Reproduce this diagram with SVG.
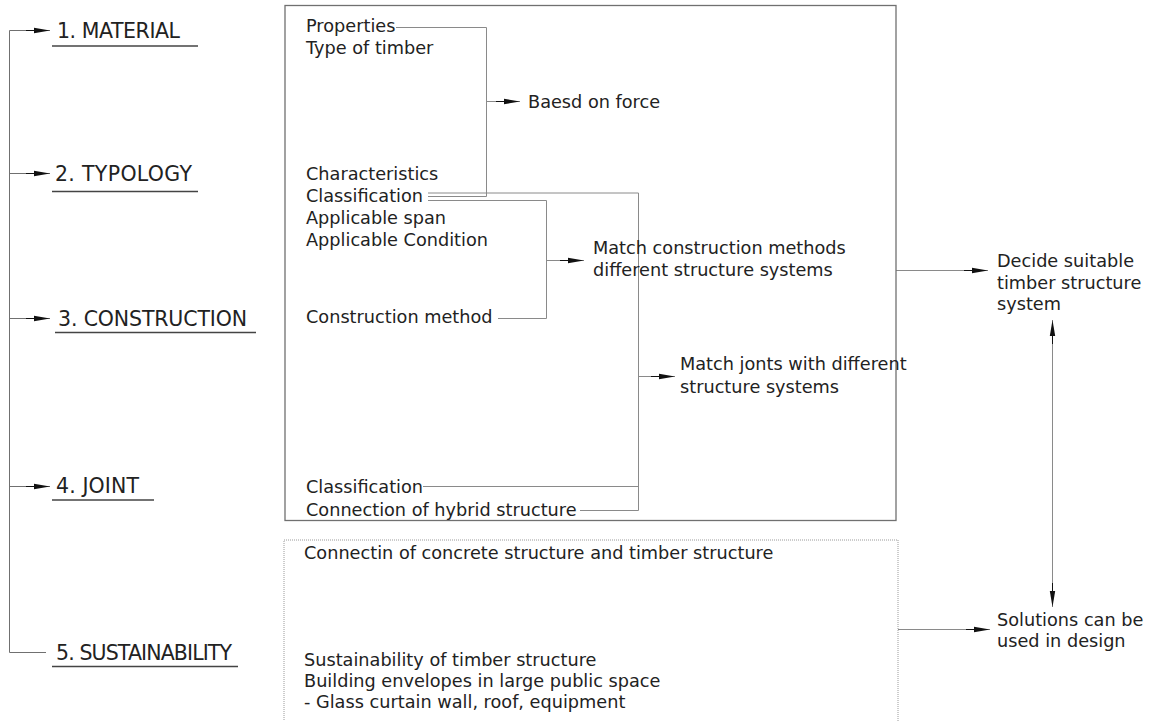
<svg xmlns="http://www.w3.org/2000/svg" width="1156" height="721" viewBox="0 0 1156 721">
<style>
text{font-family:"DejaVu Sans","Liberation Sans",sans-serif;fill:#222}
.h{font-size:20.5px}
.t{font-size:17.7px}
.ul{stroke:#444;stroke-width:1.5;fill:none}
.c{stroke:#8a8a8a;stroke-width:1;fill:none}
.l{stroke:#707070;stroke-width:1;fill:none}
.box{fill:none;stroke:#707070;stroke-width:1.3}
.dot{fill:none;stroke:#9a9a9a;stroke-width:1;stroke-dasharray:1 1}
</style>
<defs>
<marker id="arr" viewBox="0 0 24 7" refX="24" refY="3.5" markerWidth="24" markerHeight="7" markerUnits="userSpaceOnUse" orient="auto-start-reverse">
<line x1="0" y1="3.5" x2="10" y2="3.5" stroke="#111" stroke-width="1"/>
<path d="M8,0.8 L24,3.5 L8,6.2 z" fill="#111"/>
</marker>
</defs>
<rect width="1156" height="721" fill="#fff"/>

<g id="connectors">
<path class="l" d="M46,652.5 H9.5 V30.5"/>
<path d="M9.5,30.5 H50" class="l" marker-end="url(#arr)"/>
<path d="M9.5,173.5 H50" class="l" marker-end="url(#arr)"/>
<path d="M9.5,318.5 H50" class="l" marker-end="url(#arr)"/>
<path d="M9.5,486.5 H50" class="l" marker-end="url(#arr)"/>
<path class="c" d="M396,27.5 H486.5 V196.5 H428"/>
<path class="c" d="M486.5,101.5 H520" marker-end="url(#arr)"/>
<path class="c" d="M428,200.5 H546.5 V318.5 H498"/>
<path class="c" d="M546.5,260.5 H584" marker-end="url(#arr)"/>
<path class="c" d="M428,193 H638.5 V510.5 H580"/>
<path class="c" d="M423,486.5 H638.5"/>
<path class="c" d="M638.5,376.5 H675" marker-end="url(#arr)"/>
<path class="c" d="M896,270.5 H988" marker-end="url(#arr)"/>
<path class="c" d="M898,629.5 H990" marker-end="url(#arr)"/>
<path class="c" d="M1052.5,320 V607" marker-start="url(#arr)" marker-end="url(#arr)"/>
</g>

<g id="material">
<text class="h" x="57" y="38" textLength="123">1. MATERIAL</text>
<line class="ul" x1="52" y1="46" x2="198" y2="46"/>
</g>
<g id="typology">
<text class="h" x="55" y="181" textLength="137">2. TYPOLOGY</text>
<line class="ul" x1="52" y1="191.5" x2="198" y2="191.5"/>
</g>
<g id="construction">
<text class="h" x="58" y="325.5" textLength="189">3. CONSTRUCTION</text>
<line class="ul" x1="55" y1="332.5" x2="256" y2="332.5"/>
</g>
<g id="joint">
<text class="h" x="56" y="493" textLength="83">4. JOINT</text>
<line class="ul" x1="52" y1="500" x2="154" y2="500"/>
</g>
<g id="sustainability">
<text class="h" x="56" y="660" textLength="176">5. SUSTAINABILITY</text>
<line class="ul" x1="52" y1="666.5" x2="238" y2="666.5"/>
</g>

<g id="main-box">
<rect class="box" x="285" y="5.5" width="611" height="515"/>
<text class="t" x="306" y="32">Properties</text>
<text class="t" x="306" y="54">Type of timber</text>
<text class="t" x="306" y="180">Characteristics</text>
<text class="t" x="306" y="202">Classification</text>
<text class="t" x="306" y="224">Applicable span</text>
<text class="t" x="306" y="246">Applicable Condition</text>
<text class="t" x="306" y="323">Construction method</text>
<text class="t" x="306" y="493">Classification</text>
<text class="t" x="306" y="515.5">Connection of hybrid structure</text>
</g>

<g id="based-on-force">
<text class="t" x="528" y="108">Baesd on force</text>
</g>
<g id="match-construction">
<text class="t" x="593" y="254">Match construction methods</text>
<text class="t" x="593" y="276">different structure systems</text>
</g>
<g id="match-joints">
<text class="t" x="680" y="370">Match jonts with different</text>
<text class="t" x="680" y="393">structure systems</text>
</g>

<g id="sustain-box">
<rect class="dot" x="284" y="540" width="614" height="200"/>
<text class="t" x="304" y="559">Connectin of concrete structure and timber structure</text>
<text class="t" x="304" y="666">Sustainability of timber structure</text>
<text class="t" x="304" y="687">Building envelopes in large public space</text>
<text class="t" x="304" y="708">- Glass curtain wall, roof, equipment</text>
</g>

<g id="decide">
<text class="t" x="997" y="267">Decide suitable</text>
<text class="t" x="997" y="289">timber structure</text>
<text class="t" x="997" y="310">system</text>
</g>
<g id="solutions">
<text class="t" x="997" y="626">Solutions can be</text>
<text class="t" x="997" y="647">used in design</text>
</g>
</svg>
